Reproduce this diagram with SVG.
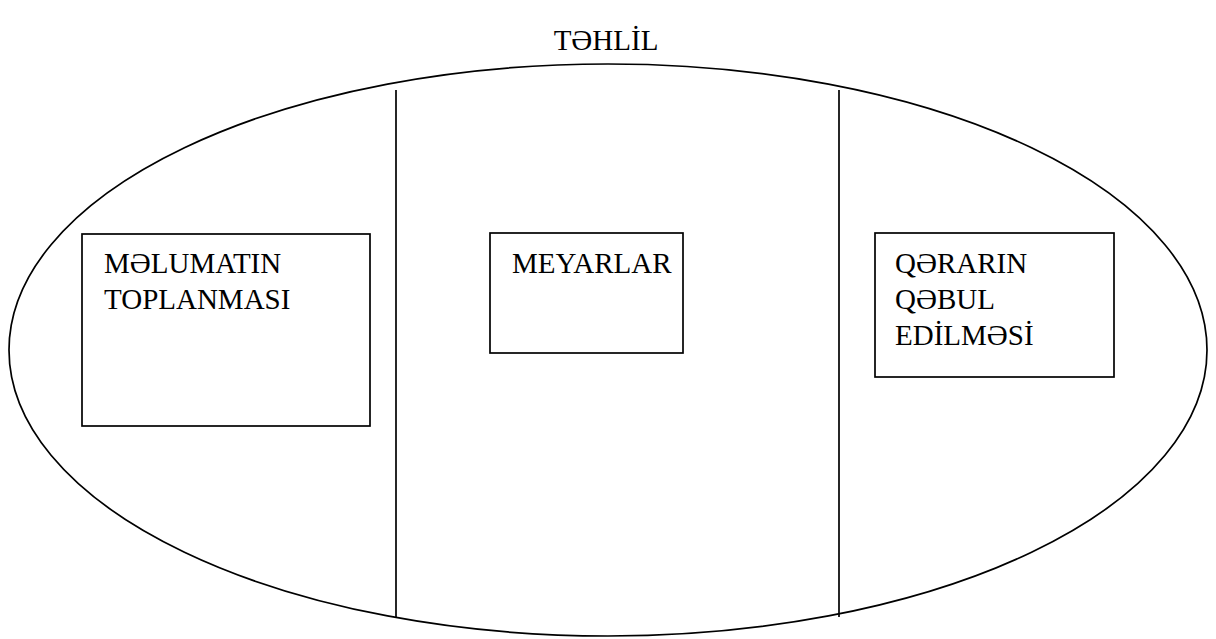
<svg xmlns="http://www.w3.org/2000/svg" width="1216" height="639" viewBox="0 0 1216 639">
  <style>
    .outline { fill: none; stroke: #000; stroke-width: 1.7; }
    .box { fill: #fff; stroke: #000; stroke-width: 1.7; }
    .label { font-family: "Liberation Serif", "DejaVu Serif", "Times New Roman", serif; font-size: 29px; fill: #000; }
  </style>
  <rect width="1216" height="639" fill="#fff"/>

  <!-- title -->
  <text class="label" x="606" y="50" text-anchor="middle">TƏHLİL</text>

  <!-- outer ellipse -->
  <g id="frame">
    <ellipse class="outline" cx="608" cy="350" rx="599" ry="286"/>
  </g>
  <!-- vertical dividers -->
  <g id="connectors">
    <line class="outline" x1="396" y1="90" x2="396" y2="617"/>
    <line class="outline" x1="839" y1="90" x2="839" y2="617"/>
  </g>

  <g id="node-melumat">
    <rect class="box" x="82" y="234" width="288" height="192"/>
    <text class="label" x="104" y="273">MƏLUMATIN</text>
    <text class="label" x="104" y="309">TOPLANMASI</text>
  </g>

  <g id="node-meyarlar">
    <rect class="box" x="490" y="233" width="193" height="120"/>
    <text class="label" x="512" y="273">MEYARLAR</text>
  </g>

  <g id="node-qerar">
    <rect class="box" x="875" y="233" width="239" height="144"/>
    <text class="label" x="895" y="273">QƏRARIN</text>
    <text class="label" x="895" y="309">QƏBUL</text>
    <text class="label" x="895" y="345">EDİLMƏSİ</text>
  </g>
</svg>
